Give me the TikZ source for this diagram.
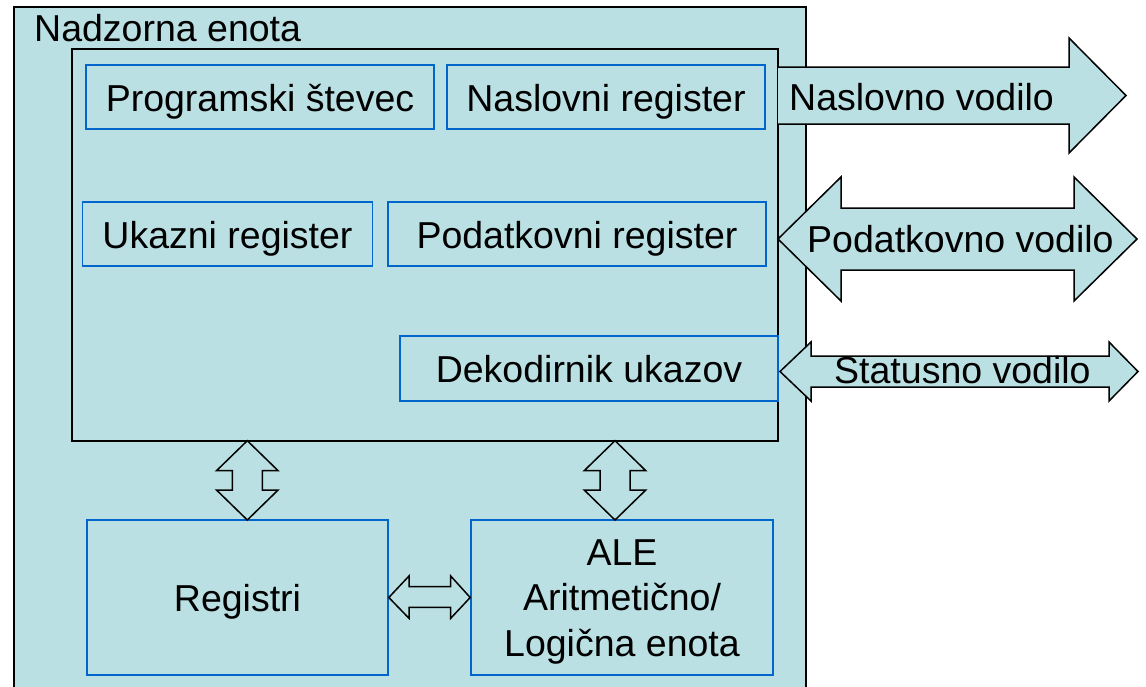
\documentclass[tikz,border=0pt]{standalone}
\usepackage{fontspec}
\setmainfont{Liberation Sans}
\usetikzlibrary{calc}
\definecolor{panel}{RGB}{186,224,227}
\definecolor{regblue}{RGB}{0,102,204}
\begin{document}
\begin{tikzpicture}[x=1pt,y=-1pt,
  txt/.style={font=\fontsize{37.5}{45.5}\selectfont},
  regbox/.style={txt, draw=regblue, line width=1.6pt, fill=panel, inner sep=0pt,
    text height=28pt, text depth=0pt, align=center},
  frame/.style={draw=black, line width=1.6pt, fill=panel},
  blockarrow/.style={draw=black, line width=1.5pt, fill=panel, line join=miter},
]
\clip (0,0) rectangle (1146,686);
\fill[white] (0,0) rectangle (1146,686);

% control unit frame and its caption
\draw[frame, line width=2pt] (14,7) rectangle (806,705);
\node[txt, anchor=base west, inner sep=0pt] (title) at (34,41) {Nadzorna enota};

% inner register block
\node[frame, inner sep=0pt, minimum width=706pt, minimum height=392pt] (core) at (425,245) {};

% registers
\node[regbox, minimum width=348pt, minimum height=64pt] (pc)   at (260,97)    {Programski števec};
\node[regbox, minimum width=318pt, minimum height=64pt] (mar)  at (606,97)    {Naslovni register};
\node[regbox, minimum width=290pt, minimum height=64pt] (ir)   at (227.5,234) {Ukazni register};
\node[regbox, minimum width=378pt, minimum height=64pt] (mdr)  at (577,234)   {Podatkovni register};
\node[regbox, minimum width=378pt, minimum height=65pt] (dec)  at (589,368.5) {Dekodirnik ukazov};

% lower units
\node[regbox, minimum width=301pt, minimum height=155pt] (regs) at (237.5,597.5) {Registri};
\node[txt, draw=regblue, line width=1.6pt, fill=panel, inner sep=0pt,
      minimum width=302pt, minimum height=155pt] (alu) at (622,597.5) {};
\node[txt, anchor=base, inner sep=0pt] (aluA) at (622,565)   {ALE};
\node[txt, anchor=base, inner sep=0pt] (aluB) at (622,610.7) {Aritmetično/};
\node[txt, anchor=base, inner sep=0pt] (aluC) at (622,656)   {Logična enota};

% vertical double block arrows: core <-> registers, core <-> ALU
\foreach \cx/\tgt in {247.3/regs, 615/alu}{
  \draw[blockarrow]
    (\cx,440.7) -- (\cx+30.8,470.7) -- (\cx+15,470.7) -- (\cx+15,490)
    -- (\cx+30.8,490) -- (\cx,520) -- (\cx-30.8,490) -- (\cx-15,490)
    -- (\cx-15,470.7) -- (\cx-30.8,470.7) -- cycle;
}

% horizontal double block arrow: registers <-> ALU
\coordinate (rl) at (regs.east);
\coordinate (ar) at (alu.west);
\draw[blockarrow]
  (rl) -- (409,576) -- (409,586.7) -- (450.7,586.7) -- (450.7,576)
  -- (ar) -- (450.7,618.3) -- (450.7,607.3) -- (409,607.3) -- (409,618.3) -- cycle;

% address bus (outgoing)
\draw[blockarrow]
  (778,67) -- (1069,67) -- (1069,38) -- (1126,95.5) -- (1069,153)
  -- (1069,124) -- (778,124);
\node[txt, anchor=base west, inner sep=0pt] (abus) at (789,110) {Naslovno vodilo};

% data bus (bidirectional)
\draw[blockarrow]
  (778,239) -- (841,177) -- (841,208) -- (1074,208) -- (1074,177) -- (1137,239)
  -- (1074,301) -- (1074,270) -- (841,270) -- (841,301) -- cycle;
\node[txt, anchor=base west, inner sep=0pt] (dbus) at (807,252) {Podatkovno vodilo};

% status bus (bidirectional)
\draw[blockarrow]
  (780,371.5) -- (811,342) -- (811,356) -- (1109,356) -- (1109,342) -- (1138,371.5)
  -- (1109,401) -- (1109,387) -- (811,387) -- (811,401) -- cycle;
\node[txt, anchor=base west, inner sep=0pt] (sbus) at (834,383) {Statusno vodilo};
\end{tikzpicture}
\end{document}
